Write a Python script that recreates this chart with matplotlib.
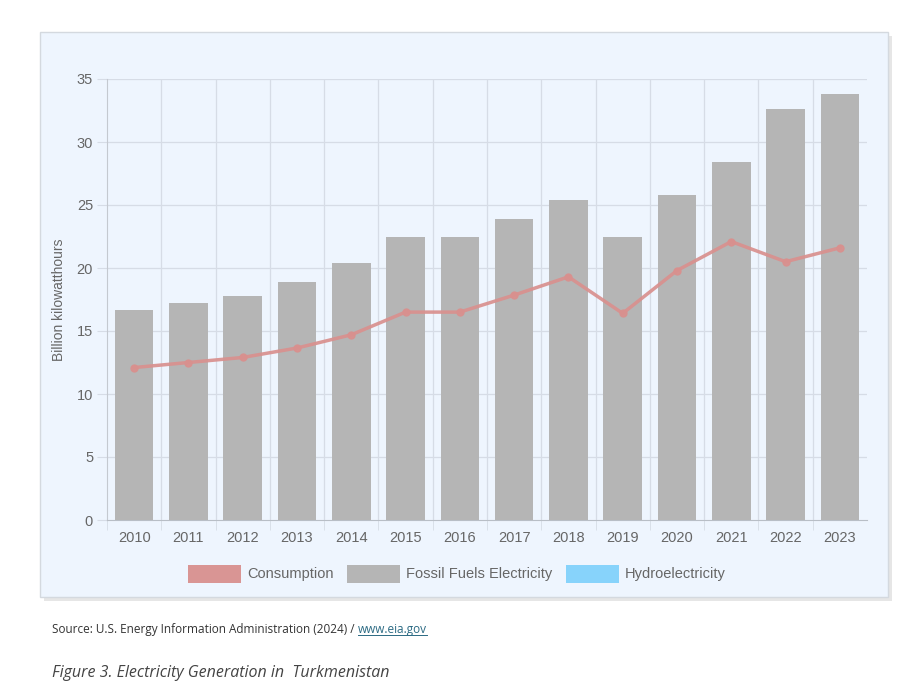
import matplotlib
matplotlib.use("Agg")
import matplotlib.pyplot as plt
from matplotlib.patches import Rectangle
import numpy as np

years = ["2010", "2011", "2012", "2013", "2014", "2015", "2016",
         "2017", "2018", "2019", "2020", "2021", "2022", "2023"]
fossil = [16.7, 17.2, 17.8, 18.9, 20.4, 22.5, 22.5, 23.9, 25.4, 22.5, 25.8, 28.4, 32.6, 33.8]
consumption = [12.1, 12.5, 12.9, 13.65, 14.7, 16.5, 16.5, 17.85, 19.3, 16.4, 19.8, 22.1, 20.5, 21.6]
hydro = [0] * 14
yticks = [0, 5, 10, 15, 20, 25, 30, 35]

W, H = 921, 689
fig = plt.figure(figsize=(W / 100, H / 100), dpi=100)
fig.patch.set_facecolor("white")

def px(x, y):
    return x / W, 1 - y / H

# panel shadow + panel
sx, sy = px(44, 601)
fig.patches.append(Rectangle((sx, sy), 848 / W, 565 / H, transform=fig.transFigure,
                             facecolor="#e6e6e6", edgecolor="none", zorder=-3))
bx, by = px(40, 597)
fig.patches.append(Rectangle((bx, by), 848 / W, 565 / H, transform=fig.transFigure,
                             facecolor="#eef5fe", edgecolor="#d4d9df", lw=1, zorder=-2))

font = "Liberation Sans"
tc = "#666666"
grid_c = "#d6dce6"

ax = fig.add_axes([107 / W, 1 - 520 / H, 760 / W, 441 / H])
ax.set_facecolor("none")
x = np.arange(len(years))
ax.bar(x, fossil, width=0.71, color="#b5b5b5", zorder=2)
ax.bar(x, hydro, width=0.71, bottom=fossil, color="#87d3fb", zorder=2)
ax.plot(x, consumption, color="#d9908e", lw=2.5, marker="o", markersize=5,
        zorder=3, alpha=0.92)

ax.set_xlim(-0.5, len(years) - 0.5)
ax.set_ylim(0, 35)
ax.set_yticks(yticks)
ax.set_yticklabels([str(t) for t in yticks], fontfamily=font, fontsize=10.5, color=tc)
ax.set_xticks(x)
ax.set_xticklabels(years, fontfamily=font, fontsize=10.5, color=tc)
ax.set_xticks(np.arange(-0.5, len(years) - 0.5, 1), minor=True)
ax.tick_params(axis="x", which="major", length=0, pad=8)
ax.tick_params(axis="x", which="minor", length=7, color=grid_c)
ax.tick_params(axis="y", length=7, color=grid_c, pad=3)
for t in yticks[1:]:
    ax.axhline(t, color=grid_c, lw=0.9, zorder=1)
for b in np.arange(0.5, len(years) - 1, 1):
    ax.axvline(b, color=grid_c, lw=0.9, zorder=1)
for s in ["top", "right"]:
    ax.spines[s].set_visible(False)
ax.spines["left"].set_color("#c4c9d0")
ax.spines["bottom"].set_color("#b8bec6")
ax.spines["left"].set_zorder(4)
ax.spines["bottom"].set_zorder(4)
ax.set_ylabel("Billion kilowatthours", fontfamily=font, fontsize=10, color=tc, labelpad=8)

# legend
items = [("Consumption", "#d99594", 188), ("Fossil Fuels Electricity", "#b5b5b5", 347),
         ("Hydroelectricity", "#87d3fb", 566)]
for label, col, lx in items:
    rx, ry = px(lx, 583)
    fig.patches.append(Rectangle((rx, ry), 53 / W, 18 / H, transform=fig.transFigure,
                                 facecolor=col, edgecolor="none", zorder=2))
    tx, ty = px(lx + 59, 574)
    fig.text(tx, ty, label, fontfamily=font, fontsize=10.5, color=tc, va="center", ha="left")

# source
cond = ["Liberation Sans Narrow", "Open Sans", "DejaVu Sans"]
sx0, sy0 = px(52, 629)
t1 = fig.text(sx0, sy0, "Source: U.S. Energy Information Administration (2024) / ",
              fontfamily=cond, fontsize=8.5, color="#333333", va="center", ha="left")
fig.canvas.draw()
bb = t1.get_window_extent()
lx_ = bb.x1 / W
fig.text(lx_, sy0, "www.eia.gov", fontfamily=cond, fontsize=8.5, color="#2b6a83",
         va="center", ha="left")
tl = fig.text(lx_, sy0, "www.eia.gov", fontfamily=cond, fontsize=8.5, color="none",
              va="center", ha="left")
fig.canvas.draw()
bb2 = tl.get_window_extent()
fig.add_artist(plt.Line2D([bb2.x0 / W, bb2.x1 / W], [(bb2.y0 + 0.5) / H] * 2,
                          transform=fig.transFigure, color="#2b6a83", lw=0.7))

cx, cy = px(52, 673)
fig.text(cx, cy, "Figure 3. Electricity Generation in  Turkmenistan", fontfamily=cond,
         fontsize=11.5, style="italic", color="#444444", va="center", ha="left")

fig.savefig("out.png", dpi=100, facecolor="white")
